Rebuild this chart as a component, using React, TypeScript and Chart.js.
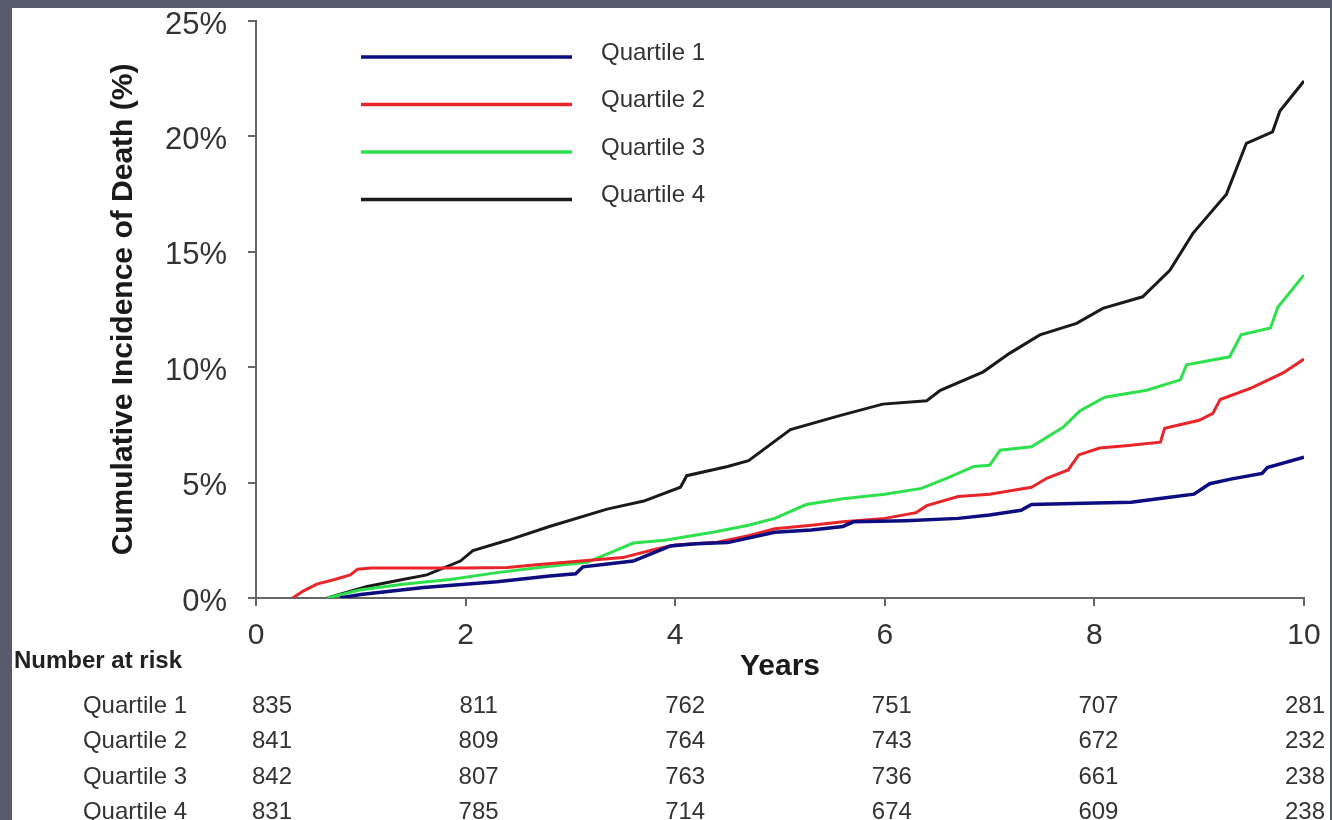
import React, { useEffect, useRef } from "react";
import { Chart, registerables } from "chart.js";

Chart.register(...registerables);

const FONT = "'Liberation Sans', Arial, Helvetica, sans-serif";

const seriesLabels = ["Quartile 1", "Quartile 2", "Quartile 3", "Quartile 4"];
const seriesColors = ["#0d0d80", "#e8252b", "#2ee04c", "#1a1a1a"];
const seriesWidths = [3.5, 3, 3, 3];

// Quartile 1 (blue)
const q1Years = [0.8, 1.0, 1.3, 1.6, 1.9, 2.3, 2.8, 3.05, 3.12, 3.6, 3.95, 4.2, 4.5, 4.95, 5.3, 5.6, 5.7, 6.2, 6.7, 7.0, 7.3, 7.4, 7.9, 8.35, 8.7, 8.95, 9.1, 9.3, 9.6, 9.65, 10.0];
const q1Pct = [0, 0.15, 0.3, 0.45, 0.56, 0.7, 0.95, 1.05, 1.35, 1.6, 2.25, 2.35, 2.4, 2.85, 2.95, 3.1, 3.3, 3.35, 3.45, 3.6, 3.8, 4.05, 4.1, 4.15, 4.35, 4.5, 4.95, 5.15, 5.4, 5.65, 6.1];

// Quartile 2 (red)
const q2Years = [0.35, 0.45, 0.58, 0.75, 0.9, 0.97, 1.1, 1.5, 2.0, 2.4, 2.7, 3.1, 3.5, 3.8, 4.0, 4.4, 4.7, 4.95, 5.3, 5.6, 6.0, 6.3, 6.4, 6.7, 7.0, 7.4, 7.55, 7.75, 7.85, 8.05, 8.3, 8.63, 8.67, 9.0, 9.13, 9.2, 9.5, 9.8, 10.0];
const q2Pct = [0, 0.3, 0.6, 0.8, 1.0, 1.25, 1.3, 1.3, 1.3, 1.32, 1.45, 1.6, 1.75, 2.1, 2.3, 2.42, 2.7, 3.0, 3.15, 3.3, 3.45, 3.7, 4.0, 4.4, 4.5, 4.8, 5.2, 5.55, 6.2, 6.5, 6.6, 6.75, 7.35, 7.7, 8.0, 8.6, 9.1, 9.75, 10.35];

// Quartile 3 (green)
const q3Years = [0.68, 0.99, 1.4, 1.85, 2.3, 2.8, 3.16, 3.4, 3.6, 3.9, 4.36, 4.7, 4.95, 5.25, 5.6, 6.0, 6.35, 6.6, 6.85, 7.0, 7.1, 7.4, 7.7, 7.86, 8.1, 8.5, 8.82, 8.88, 9.29, 9.4, 9.68, 9.75, 10.0];
const q3Pct = [0, 0.35, 0.6, 0.8, 1.1, 1.38, 1.55, 2.0, 2.38, 2.5, 2.85, 3.15, 3.45, 4.05, 4.3, 4.5, 4.75, 5.2, 5.7, 5.75, 6.4, 6.55, 7.4, 8.1, 8.7, 9.0, 9.45, 10.1, 10.45, 11.4, 11.7, 12.6, 14.0];

// Quartile 4 (black)
const q4Years = [0.68, 1.06, 1.4, 1.63, 1.95, 2.07, 2.4, 2.8, 3.35, 3.7, 4.05, 4.11, 4.5, 4.7, 5.1, 5.57, 5.98, 6.4, 6.53, 6.94, 7.19, 7.48, 7.83, 8.08, 8.46, 8.72, 8.94, 9.26, 9.45, 9.7, 9.77, 10.0];
const q4Pct = [0, 0.5, 0.8, 1.0, 1.6, 2.05, 2.5, 3.1, 3.85, 4.2, 4.8, 5.3, 5.7, 5.95, 7.3, 7.9, 8.4, 8.55, 9.0, 9.8, 10.6, 11.4, 11.9, 12.55, 13.05, 14.2, 15.8, 17.5, 19.7, 20.2, 21.1, 22.4];

const seriesYears = [q1Years, q2Years, q3Years, q4Years];
const seriesPct = [q1Pct, q2Pct, q3Pct, q4Pct];

// Number at risk table
const riskHeader = "Number at risk";
const riskYears = [0, 2, 4, 6, 8, 10];
const riskQ1 = [835, 811, 762, 751, 707, 281];
const riskQ2 = [841, 809, 764, 743, 672, 232];
const riskQ3 = [842, 807, 763, 736, 661, 238];
const riskQ4 = [831, 785, 714, 674, 609, 238];
const riskRows = [riskQ1, riskQ2, riskQ3, riskQ4];

const xTitle = "Years";
const yTitle = "Cumulative Incidence of Death (%)";

const decorPlugin = {
  id: "decor",
  beforeDraw(chart: any) {
    const ctx = chart.ctx;
    ctx.save();
    ctx.fillStyle = "#585b6c";
    ctx.fillRect(0, 0, chart.width, chart.height);
    ctx.fillStyle = "#ffffff";
    ctx.fillRect(12, 8, 1318, chart.height - 8);
    ctx.restore();
  },
  afterDraw(chart: any) {
    const ctx = chart.ctx;
    const xs = chart.scales.x;
    ctx.save();
    // legend
    seriesLabels.forEach((lab, i) => {
      const y = 57 + i * 47.5;
      ctx.strokeStyle = seriesColors[i];
      ctx.lineWidth = 3.5;
      ctx.beginPath();
      ctx.moveTo(361, y);
      ctx.lineTo(572, y);
      ctx.stroke();
      ctx.fillStyle = "#333333";
      ctx.font = `24px ${FONT}`;
      ctx.textAlign = "left";
      ctx.textBaseline = "middle";
      ctx.fillText(lab, 601, y - 4);
    });
    // number at risk table
    ctx.fillStyle = "#222222";
    ctx.font = `bold 24px ${FONT}`;
    ctx.textAlign = "left";
    ctx.textBaseline = "alphabetic";
    ctx.fillText(riskHeader, 14, 668);
    const start = xs.getPixelForValue(riskYears[0]) + 16;
    const end = xs.getPixelForValue(riskYears[riskYears.length - 1]) + 1;
    const step = (end - start) / (riskYears.length - 1);
    riskRows.forEach((row, r) => {
      const base = 713 + r * 35.3;
      ctx.fillStyle = "#333333";
      ctx.font = `24px ${FONT}`;
      ctx.textAlign = "right";
      ctx.fillText(seriesLabels[r], 187, base);
      ctx.textAlign = "center";
      row.forEach((v, c) => {
        ctx.fillText(String(v), start + c * step, base);
      });
    });
    ctx.restore();
  },
};

export default function App() {
  const ref = useRef<HTMLCanvasElement>(null);

  useEffect(() => {
    if (!ref.current) return;
    const datasets = seriesLabels.map((lab, i) => ({
      label: lab,
      data: seriesYears[i].map((x, k) => ({ x, y: seriesPct[i][k] })),
      borderColor: seriesColors[i],
      backgroundColor: seriesColors[i],
      borderWidth: seriesWidths[i],
      pointRadius: 0,
      tension: 0,
      fill: false,
    }));
    const chart = new Chart(ref.current, {
      type: "line",
      data: { datasets },
      plugins: [decorPlugin],
      options: {
        animation: false,
        responsive: false,
        maintainAspectRatio: false,
        layout: { padding: { top: 21, right: 28, bottom: 132, left: 0 } },
        plugins: {
          legend: { display: false },
          tooltip: { enabled: false },
        },
        scales: {
          x: {
            type: "linear",
            min: 0,
            max: 10,
            afterFit: (s: any) => {
              s.height = 90;
              s.paddingLeft = 0;
              s.paddingRight = 0;
            },
            ticks: {
              stepSize: 2,
              padding: 12,
              color: "#333333",
              font: { family: FONT, size: 30 },
            },
            grid: {
              drawOnChartArea: false,
              drawTicks: true,
              tickLength: 8,
              color: "#666666",
              lineWidth: 2,
            },
            border: { display: true, color: "#666666", width: 2 },
            title: {
              display: true,
              text: xTitle,
              color: "#1a1a1a",
              font: { family: FONT, size: 30, weight: "bold" },
              padding: { top: 0, bottom: 3 },
            },
          },
          y: {
            type: "linear",
            min: 0,
            max: 25,
            afterFit: (s: any) => {
              s.width = 256;
              s.paddingTop = 0;
              s.paddingBottom = 0;
            },
            ticks: {
              stepSize: 5,
              padding: 21,
              labelOffset: 4,
              color: "#333333",
              font: { family: FONT, size: 31 },
              callback: (v: any) => `${v}%`,
            },
            grid: {
              drawOnChartArea: false,
              drawTicks: true,
              tickLength: 8,
              color: "#666666",
              lineWidth: 2,
            },
            border: { display: true, color: "#666666", width: 2 },
            title: {
              display: true,
              text: yTitle,
              color: "#1a1a1a",
              font: { family: FONT, size: 30, weight: "bold" },
              padding: { top: 106, bottom: 0 },
            },
          },
        },
      },
    } as any);
    return () => chart.destroy();
  }, []);

  return (
    <div style={{ position: "absolute", left: 0, top: 0, width: 1332, height: 820 }}>
      <canvas ref={ref} width={1332} height={820} style={{ display: "block" }} />
    </div>
  );
}
